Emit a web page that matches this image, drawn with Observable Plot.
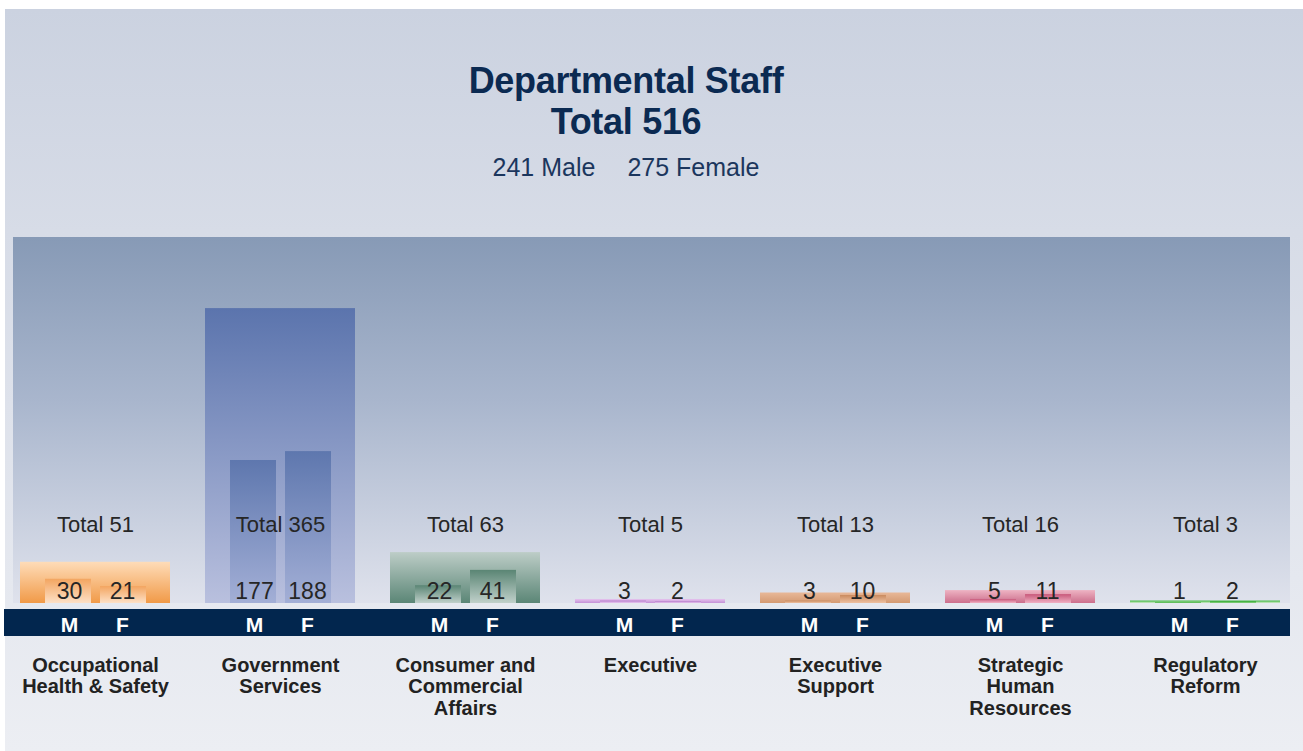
<!DOCTYPE html>
<html>
<head>
<meta charset="utf-8">
<script src="https://cdn.jsdelivr.net/npm/d3@7"></script>
<script src="https://cdn.jsdelivr.net/npm/@observablehq/plot@0.6"></script>
<style>
  html, body { margin: 0; padding: 0; background: #ffffff; }
  #chart { position: relative; width: 1303px; height: 751px; overflow: hidden; font-family: "Liberation Sans", Arial, sans-serif; }
  .abs { position: absolute; }
  #bg { left: 5px; top: 9px; width: 1298px; height: 742px; background: linear-gradient(to bottom, #cbd2e0 0%, #d7dce7 30%, #eceef3 100%); }
  #panel { left: 13px; top: 237px; width: 1277px; height: 366px; background: linear-gradient(to bottom, #879ab6 0%, #a9b6cd 45%, #dfe2ec 100%); }
  #band { left: 4px; top: 609px; width: 1286px; height: 27px; background: #02264e; }
  #title { left: 0; top: 60px; width: 1252px; text-align: center; color: #0b2a52; font-weight: bold; font-size: 36px; line-height: 41px; letter-spacing: -0.3px; }
  #sub { left: 0; top: 152px; width: 1252px; text-align: center; color: #1b365d; font-size: 25px; line-height: 30px; }
  #sub span + span { margin-left: 32px; }
  #plot { left: 0; top: 237px; }
</style>
</head>
<body>
<div id="chart">
  <div id="bg" class="abs"></div>
  <div id="panel" class="abs"></div>
  <div id="band" class="abs"></div>
  <div id="title" class="abs">Departmental Staff<br>Total 516</div>
  <div id="sub" class="abs"><span>241 Male</span><span>275 Female</span></div>
  <div id="plot" class="abs"></div>
</div>
<script>
// ---- data ----
const categories = ["Occupational Health & Safety", "Government Services", "Consumer and Commercial Affairs", "Executive", "Executive Support", "Strategic Human Resources", "Regulatory Reform"];
const categoryLabels = ["Occupational\nHealth & Safety", "Government\nServices", "Consumer and\nCommercial\nAffairs", "Executive", "Executive\nSupport", "Strategic\nHuman\nResources", "Regulatory\nReform"];
const totals = [51, 365, 63, 5, 13, 16, 3];
const male = [30, 177, 22, 3, 3, 5, 1];
const female = [21, 188, 41, 2, 10, 11, 2];
const sexLabels = ["M", "F"];

// ---- styles (gradient colours per category: [top, bottom]) ----
const totalGrad = [["#fedcb8", "#f19a48"], ["#5b74ad", "#b9c0de"], ["#bdcdc7", "#5b8676"], ["#e6c4ee", "#c391d6"], ["#e8b898", "#d49a72"], ["#eeb3c3", "#cc6f8c"], ["#32b432", "#d6ecd0"]];
const sexGrad = [["#f3a560", "#fde0c6"], ["#5e77ae", "#a3afd6"], ["#5a8574", "#c0d0ca"], ["#b57ccb", "#e8c8f0"], ["#c98a5e", "#eec0a0"], ["#c8587a", "#f0b0c2"], ["#22a222", "#9ad890"]];

const rows = categories.map((c, i) => ({i, category: c, label: categoryLabels[i], total: totals[i], male: male[i], female: female[i]}));

const textFont = "Liberation Sans, Arial, sans-serif";
const plot = Plot.plot({
  width: 1303,
  height: 514,
  marginTop: 0,
  marginBottom: 148,
  marginLeft: 1,
  marginRight: 5,
  style: {background: "transparent", overflow: "visible", fontFamily: textFont},
  x: {domain: categories, paddingInner: 0.1914, paddingOuter: 0.09, axis: null},
  y: {domain: [0, 453], axis: null},
  color: {type: "identity"},
  marks: [
    Plot.barY(rows, {x: "category", y: "total", fill: d => `url(#tg${d.i})`}),
    Plot.barY(rows, {x: "category", y: "male", fill: d => `url(#sg${d.i})`, insetLeft: 25, insetRight: 79}),
    Plot.barY(rows, {x: "category", y: "female", fill: d => `url(#sg${d.i})`, insetLeft: 80, insetRight: 24}),
    Plot.text(rows, {x: "category", text: d => `Total ${d.total}`, frameAnchor: "bottom", dy: -72, fontSize: 22, fill: "#262626"}),
    Plot.text(rows, {x: "category", text: "male", frameAnchor: "bottom", dy: -5, dx: -26, fontSize: 23, fill: "#262626"}),
    Plot.text(rows, {x: "category", text: "female", frameAnchor: "bottom", dy: -5, dx: 27, fontSize: 23, fill: "#262626"}),
    Plot.text(rows, {x: "category", text: () => sexLabels[0], frameAnchor: "bottom", dy: 28, dx: -26, fontSize: 21, fontWeight: "bold", fill: "#ffffff"}),
    Plot.text(rows, {x: "category", text: () => sexLabels[1], frameAnchor: "bottom", dy: 28, dx: 27, fontSize: 21, fontWeight: "bold", fill: "#ffffff"}),
    Plot.text(rows, {x: "category", text: "label", frameAnchor: "bottom", lineAnchor: "top", dy: 53, lineHeight: 1.08, fontSize: 20, fontWeight: "bold", fill: "#222222"})
  ]
});

// gradient definitions
const svgSel = d3.select(plot);
const defs = svgSel.insert("defs", ":first-child");
function addGrad(id, stops) {
  const g = defs.append("linearGradient").attr("id", id).attr("x1", 0).attr("y1", 0).attr("x2", 0).attr("y2", 1);
  g.append("stop").attr("offset", "0%").attr("stop-color", stops[0]);
  g.append("stop").attr("offset", "100%").attr("stop-color", stops[1]);
}
totalGrad.forEach((s, i) => addGrad(`tg${i}`, s));
sexGrad.forEach((s, i) => addGrad(`sg${i}`, s));

document.getElementById("plot").appendChild(plot);
</script>
</body>
</html>
